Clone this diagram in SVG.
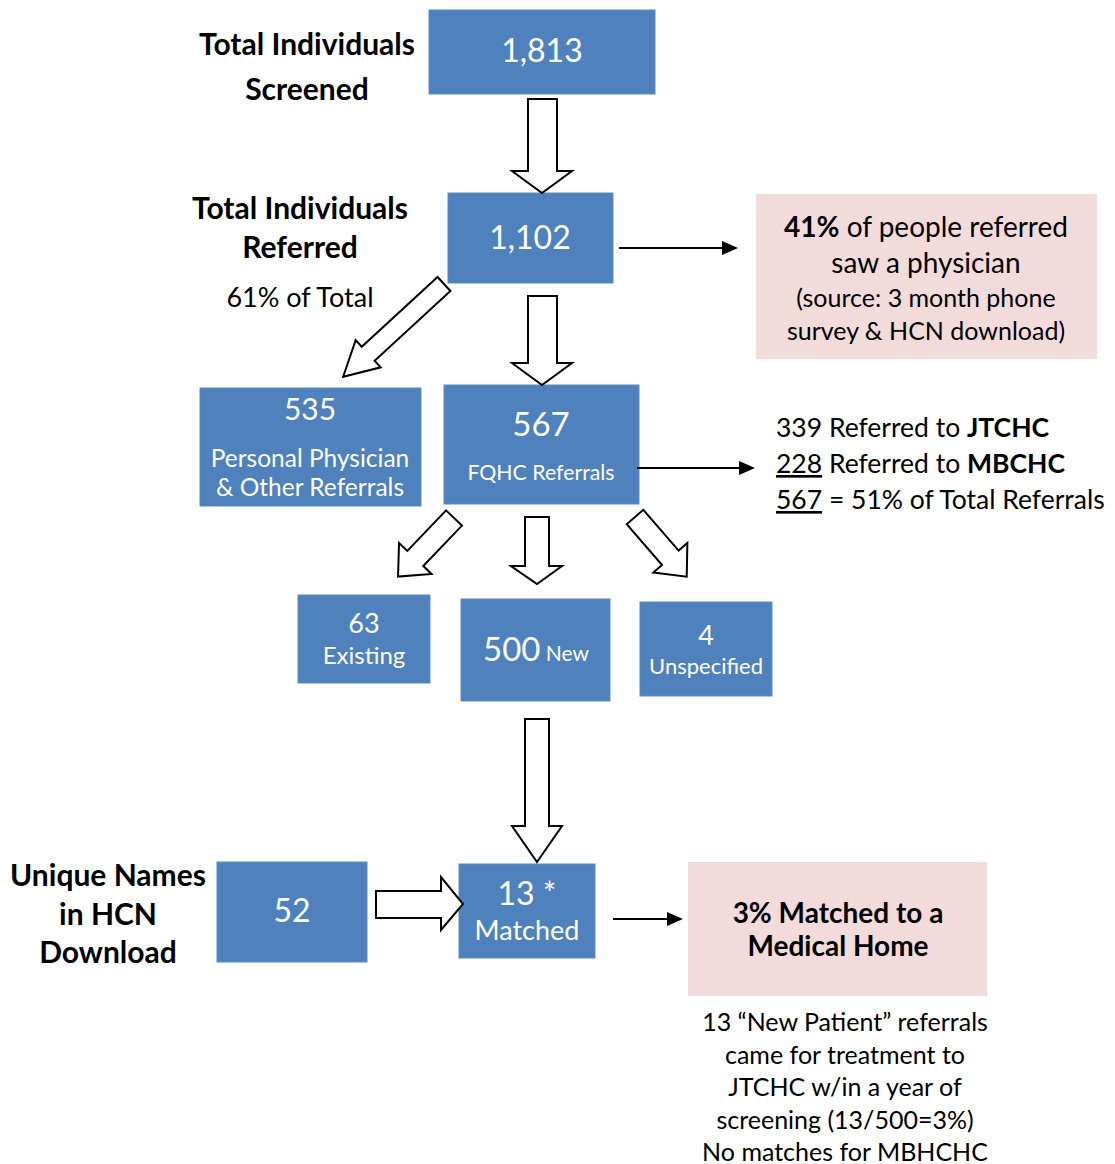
<svg xmlns="http://www.w3.org/2000/svg" width="1115" height="1164" viewBox="0 0 1115 1164">
<defs>
<style>
text{font-family:Lato,"Open Sans","Liberation Sans",sans-serif;text-anchor:middle;}
.box{fill:#4F81BD;stroke:#5B8BC4;stroke-width:1;}
.pink{fill:#F2DCDB;}
.w{fill:#FFFFFF;}
.k{fill:#000000;}
.b{font-weight:bold;}
.lbl{font-weight:bold;font-size:30px;}
.blk{fill:#FFFFFF;stroke:#000000;stroke-width:2;stroke-linejoin:miter;}
.ln{stroke:#000000;stroke-width:2;fill:none;}
.hd{fill:#000000;}
</style>
</defs>
<rect width="1115" height="1164" fill="#FFFFFF"/>

<g id="label-screened">
<text class="k lbl" x="307" y="55">Total Individuals</text>
<text class="k lbl" x="307" y="100">Screened</text>
</g>
<g id="node-1813">
<rect class="box" x="429" y="10" width="226" height="84"/>
<text class="w" x="542" y="62" font-size="32">1,813</text>
</g>

<g id="label-referred">
<text class="k lbl" x="300" y="219">Total Individuals</text>
<text class="k lbl" x="300" y="258">Referred</text>
<text class="k" x="300" y="307" font-size="27">61% of Total</text>
</g>
<g id="node-1102">
<rect class="box" x="448" y="193" width="165" height="90"/>
<text class="w" x="530" y="249" font-size="32">1,102</text>
</g>

<g id="node-41pct">
<rect class="pink" x="756" y="194" width="341" height="165"/>
<text class="k" x="926" y="237" font-size="28"><tspan class="b">41%</tspan> of people referred</text>
<text class="k" x="926" y="273" font-size="28">saw a physician</text>
<text class="k" x="926" y="307" font-size="25">(source: 3 month phone</text>
<text class="k" x="926" y="340" font-size="25">survey &amp; HCN download)</text>
</g>

<g id="node-535">
<rect class="box" x="200" y="388" width="221" height="118"/>
<text class="w" x="310" y="420" font-size="30">535</text>
<text class="w" x="310" y="467" font-size="24.5">Personal Physician</text>
<text class="w" x="310" y="496" font-size="24.5">&amp; Other Referrals</text>
</g>

<g id="node-567">
<rect class="box" x="444" y="385" width="195" height="119"/>
<text class="w" x="541" y="436" font-size="33">567</text>
<text class="w" x="541" y="480" font-size="21.3">FQHC Referrals</text>
</g>

<g id="label-fqhc-breakdown">
<text class="k" x="776" y="437" font-size="26.5" style="text-anchor:start">339 Referred to <tspan class="b">JTCHC</tspan></text>
<text class="k" x="776" y="473" font-size="26.5" style="text-anchor:start"><tspan text-decoration="underline">228</tspan> Referred to <tspan class="b">MBCHC</tspan></text>
<text class="k" x="776" y="509" font-size="26.5" style="text-anchor:start"><tspan text-decoration="underline">567</tspan> = 51% of Total Referrals</text>
</g>

<g id="node-63">
<rect class="box" x="298" y="595" width="132" height="88"/>
<text class="w" x="364" y="633" font-size="27">63</text>
<text class="w" x="364" y="664" font-size="24">Existing</text>
</g>

<g id="node-500">
<rect class="box" x="461" y="599" width="149" height="102"/>
<text class="w" x="536" y="661"><tspan font-size="33">500</tspan><tspan font-size="21"> New</tspan></text>
</g>

<g id="node-4">
<rect class="box" x="640" y="602" width="132" height="94"/>
<text class="w" x="706" y="645" font-size="27">4</text>
<text class="w" x="706" y="674" font-size="22">Unspecified</text>
</g>

<g id="label-unique">
<text class="k lbl" x="108" y="886">Unique Names</text>
<text class="k lbl" x="108" y="925">in HCN</text>
<text class="k lbl" x="108" y="963">Download</text>
</g>

<g id="node-52">
<rect class="box" x="217" y="862" width="150" height="100"/>
<text class="w" x="292" y="922" font-size="32">52</text>
</g>

<g id="node-13">
<rect class="box" x="459" y="864" width="136" height="94"/>
<text class="w" x="527" y="905" font-size="32">13 *</text>
<text class="w" x="527" y="940" font-size="27">Matched</text>
</g>

<g id="node-3pct">
<rect class="pink" x="688" y="862" width="299" height="134"/>
<text class="k b" x="838" y="923" font-size="28">3% Matched to a</text>
<text class="k b" x="838" y="956" font-size="28">Medical Home</text>
</g>

<g id="label-note">
<text class="k" x="845" y="1031" font-size="25">13 “New Patient” referrals</text>
<text class="k" x="845" y="1064" font-size="25">came for treatment to</text>
<text class="k" x="845" y="1096" font-size="25">JTCHC w/in a year of</text>
<text class="k" x="845" y="1129" font-size="25">screening (13/500=3%)</text>
<text class="k" x="845" y="1161" font-size="25">No matches for MBHCHC</text>
</g>

<g id="connectors">
<polygon class="blk" points="528,99 557,99 557,171 572,171 542,193 512,171 528,171"/>
<polygon class="blk" points="528,296 557,296 557,363 572,363 542,385 512,363 528,363"/>
<polygon class="blk" transform="translate(444,284) rotate(47.4)" points="-9.5,0 9.5,0 9.5,103 18.5,103 0,137 -18.5,103 -9.5,103"/>
<line class="ln" x1="619" y1="248" x2="724" y2="248"/>
<polygon class="hd" points="722,241 738,248 722,255"/>
<line class="ln" x1="637" y1="468" x2="741" y2="468"/>
<polygon class="hd" points="739,461 755,468 739,475"/>
<polygon class="blk" transform="translate(454,518) rotate(43.7)" points="-11,0 11,0 11,56 22.5,56 0,81 -22.5,56 -11,56"/>
<polygon class="blk" points="525,517 549,517 549,566 562,566 537,584 511,566 525,566"/>
<polygon class="blk" transform="translate(635,517) rotate(-40.9)" points="-11,0 11,0 11,54 22.5,54 0,79 -22.5,54 -11,54"/>
<polygon class="blk" points="525,719 549,719 549,826 562,826 537,862 512,826 525,826"/>
<polygon class="blk" points="376,891 441,891 441,877 463,904 441,930 441,918 376,918"/>
<line class="ln" x1="613" y1="919" x2="669" y2="919"/>
<polygon class="hd" points="667,912 683,919 667,926"/>
</g>
</svg>
